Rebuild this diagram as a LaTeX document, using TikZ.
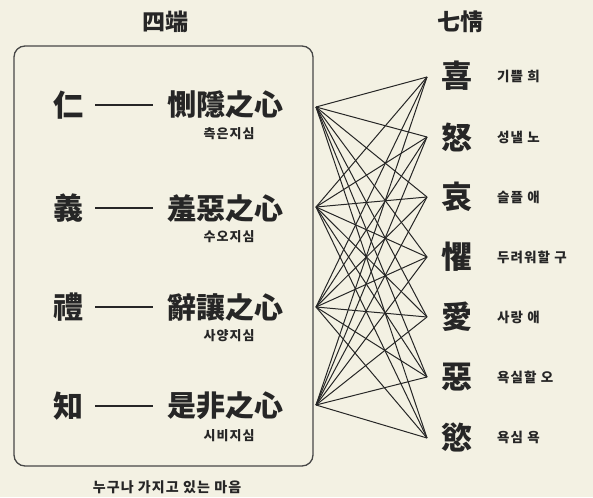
\documentclass[tikz,border=0pt]{standalone}
\usepackage{fontspec}
\usepackage{xcolor}
\newfontfamily\kr{Noto Sans CJK KR}
\newfontfamily\krwide{Noto Sans CJK KR}[LetterSpace=8]
\usetikzlibrary{positioning}

\definecolor{paper}{RGB}{243,241,227}
\definecolor{ink}{RGB}{38,38,38}

\tikzset{
  virtue/.style={inner sep=0pt, text=ink, font=\kr\bfseries\fontsize{30}{30}\selectfont},
  heart/.style={inner sep=0pt, text=ink, font=\kr\bfseries\fontsize{29}{29}\selectfont},
  feeling/.style={inner sep=0pt, text=ink, font=\kr\bfseries\fontsize{31}{31}\selectfont},
  gloss/.style={inner sep=0pt, text=ink, font=\krwide\bfseries\fontsize{13}{13}\selectfont},
  meaning/.style={inner sep=0pt, anchor=west, text=ink, font=\krwide\bfseries\fontsize{13.5}{13.5}\selectfont},
  heading/.style={inner sep=0pt, text=ink, font=\kr\bfseries\fontsize{23}{23}\selectfont},
  link/.style={draw=ink, line width=1.2pt, shorten <=12pt, shorten >=14pt},
  tie/.style={draw=ink, line width=1pt}
}

\begin{document}
\begin{tikzpicture}[x=1pt, y=-1pt]
  \fill[paper] (0,0) rectangle (593,497);
  \useasboundingbox (0,0) rectangle (593,497);

  % 四端
  \node[heading] (sadan) at (165, 22) {四端};
  \draw[ink!85, line width=1.3pt, rounded corners=11pt] (14,46) rectangle (313,466);

  \node[virtue] (v1) at (68, 105) {仁};
  \node[virtue] (v2) at (68, 208) {義};
  \node[virtue] (v3) at (68, 307) {禮};
  \node[virtue] (v4) at (68, 406) {知};

  \node[heart] (h1) at (225, 105) {惻隱之心};
  \node[heart] (h2) at (225, 208) {羞惡之心};
  \node[heart] (h3) at (225, 307) {辭讓之心};
  \node[heart] (h4) at (225, 406) {是非之心};

  \node[gloss] (g1) at (229, 134) {측은지심};
  \node[gloss] (g2) at (229, 237) {수오지심};
  \node[gloss] (g3) at (229, 336) {사양지심};
  \node[gloss] (g4) at (229, 436) {시비지심};

  \foreach \i in {1,...,4}
    \draw[link] (v\i) -- (h\i);

  \node[gloss, font=\krwide\bfseries\fontsize{14}{14}\selectfont] (caption) at (167, 487) {누구나 가지고 있는 마음};

  % 七情
  \node[heading] (chiljeong) at (460, 22) {七情};

  \node[feeling] (f1) at (457, 76) {喜};
  \node[feeling] (f2) at (457, 137) {怒};
  \node[feeling] (f3) at (457, 197) {哀};
  \node[feeling] (f4) at (457, 257) {懼};
  \node[feeling] (f5) at (457, 317) {愛};
  \node[feeling] (f6) at (457, 377) {惡};
  \node[feeling] (f7) at (457, 437) {慾};

  \node[meaning] (m1) at (497, 76) {기쁠 희};
  \node[meaning] (m2) at (497, 137) {성낼 노};
  \node[meaning] (m3) at (497, 197) {슬플 애};
  \node[meaning] (m4) at (497, 257) {두려워할 구};
  \node[meaning] (m5) at (497, 317) {사랑 애};
  \node[meaning] (m6) at (497, 377) {욕실할 오};
  \node[meaning] (m7) at (497, 437) {욕심 욕};

  % ends of the crossing lines
  \coordinate (s1) at (316, 107);
  \coordinate (s2) at (316, 207);
  \coordinate (s3) at (316, 307);
  \coordinate (s4) at (316, 405);
  \coordinate (e1) at (427, 77);
  \coordinate (e2) at (427, 137);
  \coordinate (e3) at (427, 197);
  \coordinate (e4) at (427, 257);
  \coordinate (e5) at (427, 317);
  \coordinate (e6) at (427, 377);
  \coordinate (e7) at (427, 438);

  \foreach \i in {1,...,4}
    \foreach \j in {1,...,7}
      \draw[tie] (s\i) -- (e\j);
\end{tikzpicture}
\end{document}
